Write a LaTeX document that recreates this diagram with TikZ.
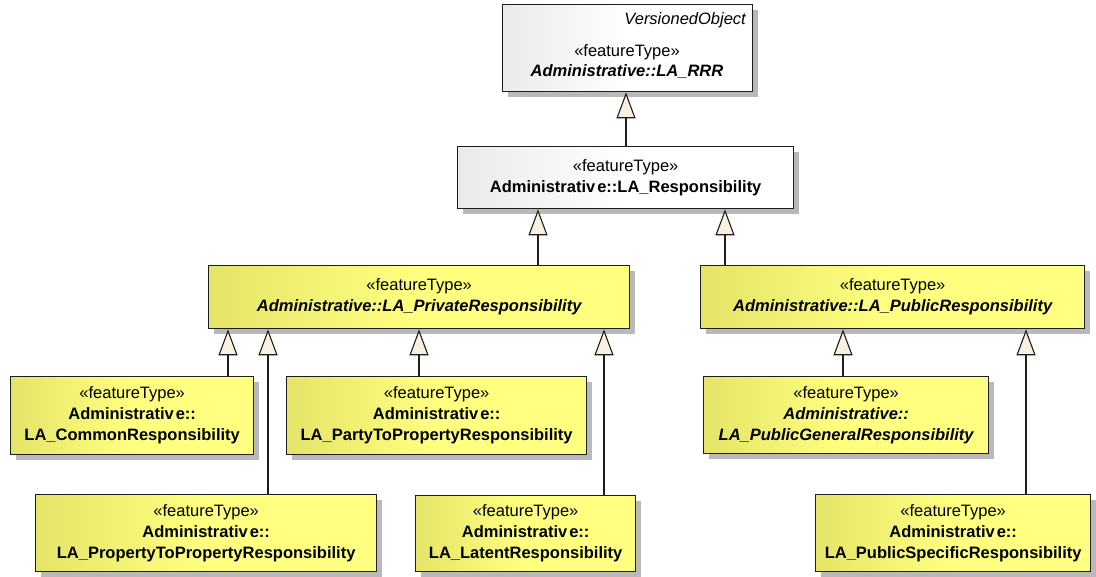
\documentclass[tikz,border=0pt]{standalone}
\usepackage{fontspec}
\setmainfont{Liberation Sans}
\usetikzlibrary{arrows.meta,shadows}
\definecolor{ylight}{RGB}{255,255,128}
\definecolor{ydark}{RGB}{228,228,104}
\definecolor{gdark}{RGB}{234,234,234}
\definecolor{shadowc}{RGB}{185,185,185}
\definecolor{tipfill}{RGB}{250,240,226}
\definecolor{edge}{RGB}{30,30,30}
\newcommand{\adm}{Administrativ\kern2pt e::}
\tikzset{
  box/.style={draw=edge, line width=1.3pt, anchor=north west, inner sep=0pt,
    align=center, font=\fontsize{16.5}{21}\selectfont,
    general shadow={fill=shadowc, shadow xshift=5pt, shadow yshift=-5pt}},
  ybox/.style={box, left color=ydark, right color=ylight, middle color=ylight},
  gbox/.style={box, left color=gdark, right color=white, middle color=white},
  lbl/.style={inner sep=0pt, align=center, font=\fontsize{16.5}{20}\selectfont},
  gen/.style={draw=edge, line width=1.3pt,
    -{Triangle[width=19pt,length=26pt,fill=tipfill,line width=1.1pt]}}
}
\begin{document}
\begin{tikzpicture}[x=1pt,y=-1pt]
\useasboundingbox (0,0) rectangle (1096,577);

% top class
\node[gbox, minimum width=250pt, minimum height=87pt] (rrr) at (502,4) {};
\node[lbl, anchor=east] (rrrv) at (746,20) {\itshape VersionedObject};
\node[lbl] (rrrn) at (627,62) {«featureType»\\ \bfseries\itshape Administrative::LA\_RRR};

\node[gbox, minimum width=336pt, minimum height=62pt] (resp) at (457,146)
  {«featureType»\\ \bfseries \adm LA\_Responsibility};

\node[ybox, minimum width=421pt, minimum height=63pt] (priv) at (208,265)
  {«featureType»\\ \bfseries\itshape Administrative::LA\_PrivateResponsibility};
\node[ybox, minimum width=384pt, minimum height=63pt] (pub) at (700,265)
  {«featureType»\\ \bfseries\itshape Administrative::LA\_PublicResponsibility};

\node[ybox, minimum width=243pt, minimum height=78pt] (common) at (10,376)
  {«featureType»\\ \bfseries \adm\\ \bfseries LA\_CommonResponsibility};
\node[ybox, minimum width=300pt, minimum height=78pt] (party) at (286,376)
  {«featureType»\\ \bfseries \adm\\ \bfseries LA\_PartyToPropertyResponsibility};
\node[ybox, minimum width=285pt, minimum height=77pt] (pubgen) at (703,376)
  {«featureType»\\ \bfseries\itshape Administrative::\\ \bfseries\itshape LA\_PublicGeneralResponsibility};

\node[ybox, minimum width=341pt, minimum height=77pt] (prop) at (35,494)
  {«featureType»\\ \bfseries \adm\\ \bfseries LA\_PropertyToPropertyResponsibility};
\node[ybox, minimum width=220pt, minimum height=76pt] (latent) at (415,495)
  {«featureType»\\ \bfseries \adm\\ \bfseries LA\_LatentResponsibility};
\node[ybox, minimum width=275pt, minimum height=77pt] (pubspec) at (815,494)
  {«featureType»\\ \bfseries \adm\\ \bfseries LA\_PublicSpecificResponsibility};

% generalizations
\draw[gen] (626,0 |- resp.north) -- (626,0 |- rrr.south);
\draw[gen] (538,0 |- priv.north) -- (538,0 |- resp.south);
\draw[gen] (725,0 |- pub.north) -- (725,0 |- resp.south);
\draw[gen] (228,0 |- common.north) -- (228,0 |- priv.south);
\draw[gen] (268,0 |- prop.north) -- (268,0 |- priv.south);
\draw[gen] (419,0 |- party.north) -- (419,0 |- priv.south);
\draw[gen] (604,0 |- latent.north) -- (604,0 |- priv.south);
\draw[gen] (843,0 |- pubgen.north) -- (843,0 |- pub.south);
\draw[gen] (1026,0 |- pubspec.north) -- (1026,0 |- pub.south);
\end{tikzpicture}
\end{document}
